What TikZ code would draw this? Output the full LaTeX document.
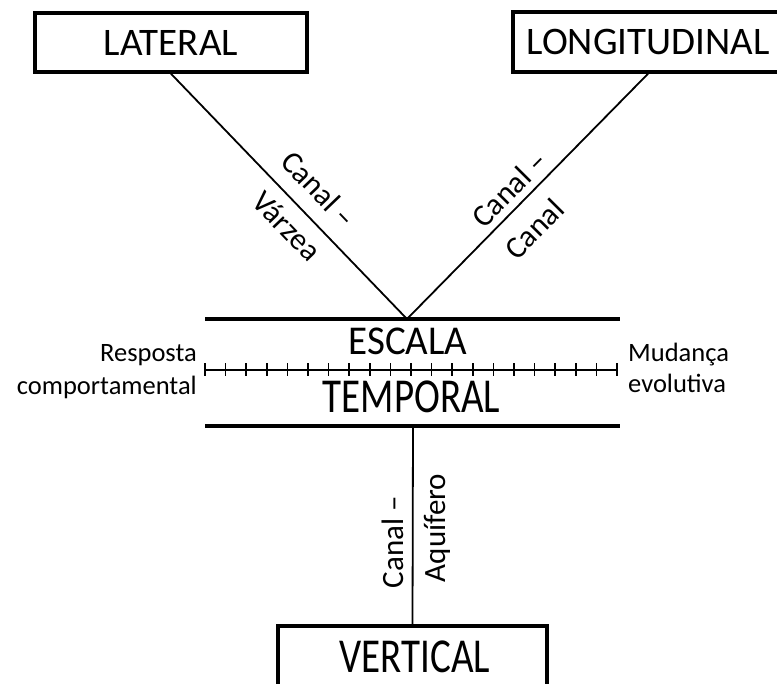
\documentclass[tikz,border=0pt]{standalone}
\usepackage{fontspec}
\setmainfont{Carlito}
\usepackage{graphicx}
\usetikzlibrary{calc}
\begin{document}
\begin{tikzpicture}[x=1pt,y=-1pt,
  boxed/.style={draw,line width=3.5pt,inner sep=0pt},
  bigtext/.style={inner sep=0pt,font=\fontsize{39}{44}\selectfont},
  midtext/.style={inner sep=0pt,font=\fontsize{31}{35}\selectfont},
  sidetext/.style={inner sep=0pt,font=\fontsize{26.5}{33}\selectfont},
  link/.style={line width=1.8pt},
  rule/.style={line width=3.5pt}]
\useasboundingbox (0,0) rectangle (777,684);
\clip (0,0) rectangle (777,684);

% dimension boxes
\node[boxed,bigtext,minimum width=272pt,minimum height=59pt] (lat) at (171,42.5) {LATERAL};
\node[boxed,minimum width=290pt,minimum height=60pt] (lonbox) at (658,42) {};
\node[bigtext] (lon) at (648,42) {LONGITUDINAL};
\node[boxed,minimum width=269pt,minimum height=90pt] (vert) at (412.5,671) {};
\node[bigtext] (verttxt) at (415,657) {\scalebox{1}[1.25]{VERTICAL}};

% time scale band
\coordinate (apex) at (407,319);
\coordinate (tl) at (205,319);
\coordinate (tr) at (620,319);
\coordinate (bl) at (205,426);
\coordinate (br) at (620,426);
\coordinate (vtop) at (413,426);
\draw[rule] (tl) -- (tr);
\draw[rule] (bl) -- (br);
\node[bigtext] (escala) at (408,341) {\scalebox{1}[1.05]{ESCALA}};
\node[bigtext] (temporal) at (411.5,396.5) {\scalebox{1}[1.25]{TEMPORAL}};

\coordinate (sl) at (205,370);
\coordinate (sr) at (617,370);
\draw[line width=2pt] (sl) -- (sr);
\foreach \i in {0,...,20}
  \draw[line width=1.8pt] ($(sl)!\i/20!(sr)+(0,-6.5)$) -- ($(sl)!\i/20!(sr)+(0,6.5)$);

\node[sidetext,anchor=base east] (resp) at (197,362) {Resposta};
\node[sidetext,anchor=base east] (comp) at (197,395) {comportamental};
\node[sidetext,anchor=base west] (mud) at (628,362) {Mudança};
\node[sidetext,anchor=base west] (evol) at (628,393) {evolutiva};

% connectors
\draw[link] (lat.south) -- (apex);
\draw[link] (lonbox.south -| lon) -- (apex);
\draw[link] (vtop) -- (vert.north);

\node[midtext,rotate=-46.2] (cv1) at (319,189) {Canal –};
\node[midtext,rotate=-46.2] (cv2) at (287,226) {Várzea};
\node[midtext,rotate=45.2] (cc1) at (509,189) {Canal –};
\node[midtext,rotate=45.2] (cc2) at (534,229) {Canal};
\node[midtext,rotate=90] (ca1) at (393,542) {Canal –};
\node[midtext,rotate=90] (ca2) at (437,528) {Aquífero};
\end{tikzpicture}
\end{document}
